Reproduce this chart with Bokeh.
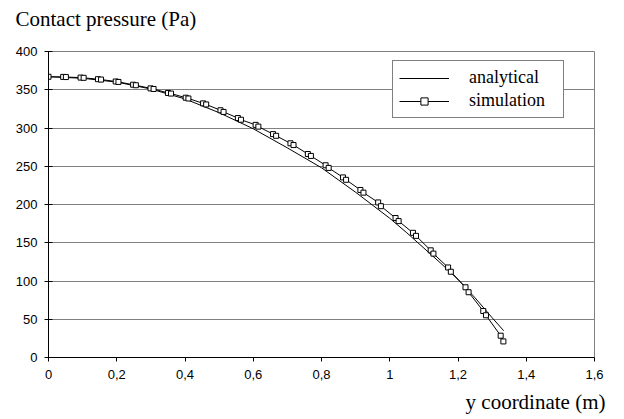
from bokeh.plotting import figure
from bokeh.models import (Range1d, FixedTicker, CustomJSTickFormatter, Title,
                          Legend, LegendItem)
from bokeh.embed import file_html
from bokeh.resources import INLINE

# ---- data ----
analytical_y = [0.0, 0.1, 0.2, 0.3, 0.4, 0.5, 0.6, 0.7, 0.8, 0.9, 1.0,
                1.05, 1.1, 1.15, 1.2, 1.25, 1.3, 1.334]
analytical_p = [367, 365, 360, 351, 338, 320, 299, 274, 248, 216, 182,
                163, 143, 123, 102, 78, 52, 35]

simulation_y = [0.000,
                0.043, 0.051, 0.094, 0.103, 0.145, 0.154, 0.197, 0.205,
                0.248, 0.256, 0.299, 0.308, 0.350, 0.359, 0.402, 0.410,
                0.453, 0.462, 0.504, 0.513, 0.555, 0.564, 0.607, 0.615,
                0.658, 0.667, 0.709, 0.718, 0.760, 0.769, 0.812, 0.821,
                0.863, 0.872, 0.914, 0.923, 0.966, 0.974, 1.017, 1.026,
                1.068, 1.077, 1.120, 1.128, 1.171, 1.179, 1.222, 1.231,
                1.274, 1.282, 1.325, 1.333]
simulation_p = [367.0,
                366.8, 366.6, 365.9, 365.6, 363.8, 363.3, 360.8, 360.2,
                356.6, 355.9, 351.8, 351.0, 345.8, 345.0, 339.6, 338.6,
                332.2, 330.8, 323.2, 321.0, 313.0, 310.8, 304.1, 301.8,
                292.0, 289.8, 280.0, 277.7, 266.0, 263.5, 251.3, 247.8,
                235.4, 232.3, 219.0, 215.5, 202.7, 197.8, 182.3, 178.3,
                163.0, 159.0, 140.1, 135.8, 117.7, 112.1, 91.8, 85.3,
                60.8, 55.2, 28.5, 21.0]

x_ticks = [0, 0.2, 0.4, 0.6, 0.8, 1.0, 1.2, 1.4, 1.6]
x_tick_labels = ["0", "0,2", "0,4", "0,6", "0,8", "1", "1,2", "1,4", "1,6"]
y_ticks = [0, 50, 100, 150, 200, 250, 300, 350, 400]

title_text = "Contact pressure (Pa)"
xlabel_text = "y coordinate (m)"
series_names = ["analytical", "simulation"]

SERIF = "Liberation Serif"
SANS = "Liberation Sans"

W, H = 624, 419
p = figure(width=W, height=H, output_backend="svg", toolbar_location=None,
           x_range=Range1d(0, 1.6), y_range=Range1d(0, 400),
           min_border_left=48, min_border_right=30,
           min_border_top=51, min_border_bottom=62)
p.background_fill_color = "white"
p.border_fill_color = "white"
p.outline_line_color = "#808080"
p.outline_line_width = 1

# grid
p.xgrid.grid_line_color = None
p.ygrid.grid_line_color = "#808080"
p.ygrid.grid_line_width = 1

# axes
p.xaxis.ticker = FixedTicker(ticks=x_ticks)
p.xaxis.formatter = CustomJSTickFormatter(
    args=dict(xt=x_ticks, xl=x_tick_labels),
    code="""
    for (let i = 0; i < xt.length; i++) {
        if (Math.abs(xt[i] - tick) < 1e-9) { return xl[i]; }
    }
    return String(tick).replace('.', ',');
    """)
p.yaxis.ticker = FixedTicker(ticks=y_ticks)
for ax in (p.xaxis, p.yaxis):
    ax.axis_line_color = "black"
    ax.axis_line_width = 1
    ax.major_tick_line_color = "black"
    ax.minor_tick_line_color = None
    ax.major_label_text_font = SANS
    ax.major_label_text_font_size = "13px"
    ax.major_label_text_color = "black"
p.xaxis.major_tick_in = 0
p.xaxis.major_tick_out = 4
p.xaxis.major_label_standoff = 8
p.yaxis.major_tick_in = 4
p.yaxis.major_tick_out = 4
p.yaxis.major_label_standoff = 7

# data renderers
r_an = p.line(analytical_y, analytical_p, line_color="black", line_width=1)
r_sim_line = p.line(simulation_y, simulation_p, line_color="black", line_width=1)
r_sim_pts = p.scatter(simulation_y, simulation_p, marker="square", size=5,
                      fill_color="white", line_color="black", line_width=1)

legend = Legend(items=[LegendItem(label=series_names[0], renderers=[r_an]),
                       LegendItem(label=series_names[1], renderers=[r_sim_line, r_sim_pts])],
                location=(344, 239), margin=0, padding=6, spacing=2,
                glyph_width=50, glyph_height=18, label_height=18,
                label_standoff=20, label_width=88,
                label_text_font=SERIF, label_text_font_size="18px",
                label_text_color="black",
                border_line_color="black", border_line_width=1,
                background_fill_color="white", background_fill_alpha=1)
p.add_layout(legend, "center")

# texts (spacer panels position the titles)
p.add_layout(Title(text=" ", text_font_size="1px", standoff=18), "above")
p.add_layout(Title(text=title_text, align="left", offset=-33, standoff=0,
                   vertical_align="bottom",
                   text_font=SERIF, text_font_size="21px",
                   text_font_style="normal", text_color="black"), "above")
p.add_layout(Title(text=" ", text_font_size="1px", standoff=5), "below")
p.add_layout(Title(text=xlabel_text, align="right", offset=-11, standoff=0,
                   vertical_align="top",
                   text_font=SERIF, text_font_size="21px",
                   text_font_style="normal", text_color="black"), "below")

open("out.html", "w").write(file_html(p, INLINE))
